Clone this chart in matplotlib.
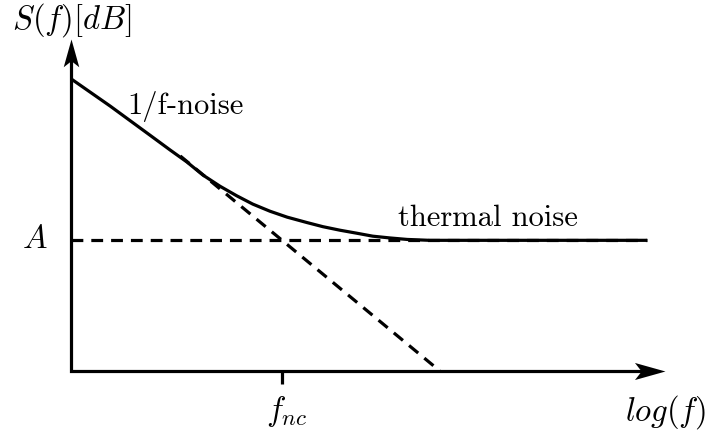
import matplotlib
matplotlib.use("Agg")
import matplotlib.pyplot as plt
from matplotlib.path import Path

plt.rcParams["mathtext.fontset"] = "cm"

# Noise spectrum sketch: log(f) on x, S(f) in dB on y (arbitrary units)
curve_x = [0.0, 0.66, 1.33, 1.67, 1.95, 2.22, 2.51, 2.79, 3.06, 3.35, 3.64,
           3.97, 4.24, 4.53, 4.81, 5.08, 5.37, 5.66, 6.04, 9.70]
curve_y = [4.92, 4.46, 3.97, 3.72, 3.52, 3.30, 3.11, 2.95, 2.81, 2.69, 2.59,
           2.50, 2.43, 2.37, 2.32, 2.27, 2.24, 2.215, 2.20, 2.20]

level_A = 2.2                   # thermal noise floor
floor_x = [0.0, 9.70]
pink_x = [1.84, 6.21]           # 1/f asymptote
pink_y = [3.62, 0.0]
f_nc = 3.55                     # corner frequency

x_end = 10.0
y_end = 5.59

fig = plt.figure(figsize=(7.08, 4.39), dpi=100)
ax = fig.add_axes([0, 0, 1, 1])
ax.set_xlim(-1.195, 10.724)
ax.set_ylim(-1.128, 6.263)
ax.axis("off")

lw = 2.3
dash = (3.7, 2.5)

# axes
ax.plot([0, 0, x_end - 0.3], [y_end - 0.3, 0, 0], color="black", lw=lw,
        solid_joinstyle="miter", solid_capstyle="butt")
right_head = Path([(0, 0), (-1, 0.28), (-0.78, 0), (-1, -0.28), (0, 0)],
                  [Path.MOVETO, Path.LINETO, Path.LINETO, Path.LINETO, Path.CLOSEPOLY])
up_head = Path([(0, 0), (-0.28, -1), (0, -0.78), (0.28, -1), (0, 0)],
               [Path.MOVETO, Path.LINETO, Path.LINETO, Path.LINETO, Path.CLOSEPOLY])
ax.plot([x_end], [0], marker=right_head, ms=44, color="black", mew=0)
ax.plot([0], [y_end], marker=up_head, ms=40, color="black", mew=0)

# corner frequency tick
ax.plot([f_nc, f_nc], [0, -0.22], color="black", lw=lw, solid_capstyle="butt")

# asymptotes
ax.plot(floor_x, [level_A, level_A], color="black", lw=lw, dashes=dash)
ax.plot(pink_x, pink_y, color="black", lw=lw, dashes=dash)

# total noise
ax.plot(curve_x, curve_y, color="black", lw=lw, solid_capstyle="butt",
        solid_joinstyle="round")

fs = 22
fs_math = 23.5
ax.text(-0.993, 5.79, r"$S(f)[dB]$", fontsize=fs_math, va="baseline", ha="left")
ax.text(0.943, 4.34, "1/f-noise", family="cmr10", fontsize=fs, va="baseline", ha="left")
ax.text(5.505, 2.458, "thermal noise", family="cmr10", fontsize=fs, va="baseline", ha="left")
ax.text(-0.40, 2.09, r"$A$", fontsize=fs_math, va="baseline", ha="right")
ax.text(f_nc + 0.09, -0.81, r"$f_{nc}$", fontsize=fs_math, va="baseline", ha="center")
ax.text(9.33, -0.825, r"$log(f)$", fontsize=fs_math, va="baseline", ha="left")

fig.savefig("out.png", dpi=100)
